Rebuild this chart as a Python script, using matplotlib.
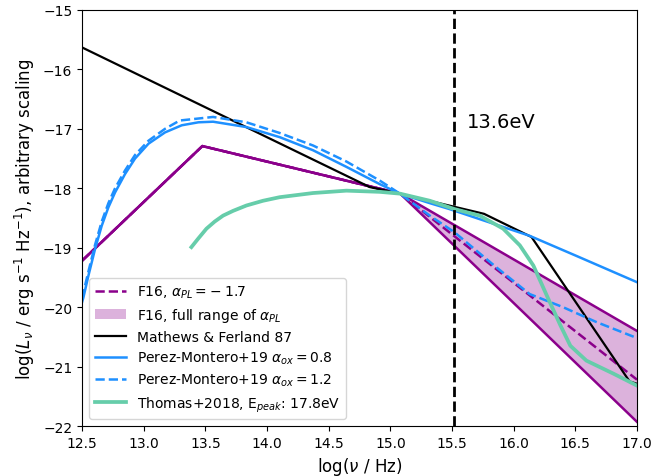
import numpy as np
import matplotlib
matplotlib.use("Agg")
import matplotlib.pyplot as plt

# F16 broken power law (upper / lower edge of alpha_PL range and alpha_PL = -1.7)
f16_lognu = [12.5, 13.476, 15.08, 17.0]
f16_upper = [-19.22, -17.29, -18.09, -20.40]
f16_lower = [-19.22, -17.29, -18.09, -21.93]
f16_mid = [-19.22, -17.29, -18.09, -21.22]

# Mathews & Ferland 87
mf_lognu = [12.5, 14.833, 14.968, 15.76, 16.145, 16.94, 17.0]
mf_logL = [-15.63, -17.98, -18.04, -18.43, -18.82, -21.25, -21.29]

# Perez-Montero+19, alpha_ox = 0.8
pm08_lognu = [12.5, 12.511, 12.552, 12.606, 12.66, 12.714, 12.768, 12.849, 12.93,
              13.039, 13.173, 13.309, 13.444, 13.563, 13.833, 14.103, 14.373, 14.644,
              14.914, 15.077, 15.32, 15.48, 16.13, 16.5, 17.0]
pm08_logL = [-19.92, -19.84, -19.47, -19.02, -18.63, -18.32, -18.07, -17.76, -17.50,
             -17.25, -17.06, -16.94, -16.89, -16.88, -16.97, -17.14, -17.36, -17.64,
             -17.93, -18.09, -18.25, -18.35, -18.80, -19.13, -19.58]

# Perez-Montero+19, alpha_ox = 1.2
pm12_lognu = [12.5, 12.552, 12.606, 12.66, 12.714, 12.768, 12.849, 12.93, 13.039,
              13.173, 13.292, 13.563, 13.833, 14.103, 14.373, 14.644, 14.914, 15.077,
              15.32, 15.52, 15.86, 16.13, 16.40, 16.67, 17.0]
pm12_logL = [-19.85, -19.40, -18.95, -18.56, -18.25, -18.00, -17.70, -17.44, -17.20,
             -17.00, -16.86, -16.80, -16.89, -17.07, -17.28, -17.55, -17.87, -18.09,
             -18.46, -18.74, -19.33, -19.78, -20.00, -20.25, -20.52]

# Thomas+2018, E_peak = 17.8 eV
th_lognu = [13.387, 13.441, 13.509, 13.576, 13.644, 13.725, 13.833, 13.968, 14.103,
            14.373, 14.644, 14.914, 15.077, 15.32, 15.52, 15.725, 15.915, 16.05, 16.16,
            16.27, 16.38, 16.46, 16.59, 16.81, 17.0]
th_logL = [-18.99, -18.85, -18.68, -18.56, -18.46, -18.38, -18.29, -18.21, -18.15,
           -18.08, -18.04, -18.06, -18.09, -18.21, -18.35, -18.46, -18.68, -18.96, -19.30,
           -19.81, -20.31, -20.65, -20.90, -21.12, -21.32]

lognu_13p6 = np.log10(13.6 * 1.602176634e-12 / 6.62607015e-27)

purple = "darkmagenta"
blue = "dodgerblue"
green = "mediumaquamarine"

fig = plt.figure(figsize=(6.7, 4.77), dpi=100)
ax = fig.add_axes([0.1224, 0.1048, 0.8283, 0.8722])

ax.fill_between(f16_lognu, f16_lower, f16_upper, facecolor=purple, alpha=0.3,
                edgecolor="none", label=r"F16, full range of $\alpha_{PL}$")
ax.plot(f16_lognu, f16_upper, color=purple, lw=1.8)
ax.plot(f16_lognu, f16_lower, color=purple, lw=1.8)
ax.plot(f16_lognu, f16_mid, color=purple, lw=1.8, ls="--",
        label=r"F16, $\alpha_{PL} = -\;1.7$")

ax.plot(mf_lognu, mf_logL, color="black", lw=1.6, label="Mathews & Ferland 87")
ax.plot(pm08_lognu, pm08_logL, color=blue, lw=1.8,
        label=r"Perez-Montero+19 $\alpha_{ox} = 0.8$")
ax.plot(pm12_lognu, pm12_logL, color=blue, lw=1.8, ls="--",
        label=r"Perez-Montero+19 $\alpha_{ox} = 1.2$")
ax.plot(th_lognu, th_logL, color=green, lw=2.7,
        label=r"Thomas+2018, E$_{peak}$: 17.8eV")

ax.axvline(lognu_13p6, color="black", ls="--", lw=2)
ax.text(lognu_13p6 + 0.1, -16.88, "13.6eV", fontsize=14, va="center")

handles, labels = ax.get_legend_handles_labels()
order = [1, 0, 2, 3, 4, 5]
ax.legend([handles[i] for i in order], [labels[i] for i in order],
          loc="lower left", fontsize=10, handlelength=2.25, labelspacing=0.42)

ax.set_xlim(12.5, 17.0)
ax.set_ylim(-22, -15)
ax.set_xticks(np.arange(12.5, 17.01, 0.5))
ax.set_xlabel(r"log($\nu$ / Hz)", fontsize=12)
ax.set_ylabel(r"log($L_\nu$ / erg s$^{-1}$ Hz$^{-1}$), arbitrary scaling", fontsize=12)

fig.savefig("out.png", dpi=100)
